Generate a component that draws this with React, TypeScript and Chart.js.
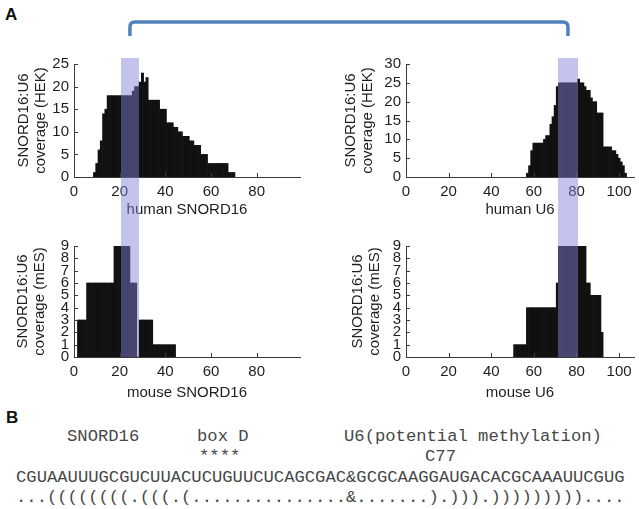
import React, { useEffect, useRef } from "react";
import { Chart, registerables } from "chart.js";

Chart.register(...registerables);

// ---------- data ----------
const xTickStep = 20;
const snord16AxisMax = 99;
const u6AxisMax = 107;

const humanSnord16Start = 9;
const humanSnord16Coverage = [
  1, 3, 6, 8, 14, 15, 18, 18, 18, 18, 18, 18, 18, 18, 18, 18, 18, 19, 20, 20, 21, 23, 21, 22,
  17, 17, 17, 17, 17, 15, 15, 15, 12, 12, 12, 11, 11, 10, 10, 9, 9, 9, 8, 8, 7, 7, 7, 5, 5, 5,
  3, 3, 3, 3, 3, 3, 3, 3, 3, 1, 1, 1,
];

const humanU6Start = 57;
const humanU6Coverage = [
  1, 3, 7, 9, 9, 9, 9, 9, 10, 11, 11, 14, 16, 19, 24, 25, 25, 25, 25, 25, 25, 25, 25, 25, 26,
  25, 25, 24, 23, 23, 21, 20, 20, 17, 17, 17, 8, 8, 8, 8, 7, 7, 6, 5, 4, 3, 1,
];

const mouseSnord16Start = 2;
const mouseSnord16Coverage = [
  3, 3, 3, 3, 6, 6, 6, 6, 6, 6, 6, 6, 6, 6, 6, 6, 9, 9, 9, 9, 9, 9, 9, 6, 6, 6, 0, 3, 3, 3, 3,
  3, 3, 1, 1, 1, 1, 1, 1, 1, 1, 1, 1,
];

const mouseU6Start = 51;
const mouseU6Coverage = [
  1, 1, 1, 1, 1, 1, 4, 4, 4, 4, 4, 4, 4, 4, 4, 4, 4, 4, 4, 4, 6, 9, 9, 9, 9, 9, 9, 9, 9, 9, 9,
  9, 9, 9, 6, 6, 5, 5, 5, 5, 5, 2,
];

const humanYMax = [25, 30];
const humanYStep = 5;
const mouseYMax = 9;
const mouseYStep = 1;

const snord16Band = [21, 28];
const u6Band = [72, 80];

const xTitles = ["human SNORD16", "human U6", "mouse SNORD16", "mouse U6"];
const yTitleHuman = ["SNORD16:U6", "coverage (HEK)"];
const yTitleMouse = ["SNORD16:U6", "coverage (mES)"];

const labelRow = [
  { text: "SNORD16", left: 67 },
  { text: "box D", left: 197 },
  { text: "U6(potential methylation)", left: 344 },
];
const markRow = [
  { text: "****", left: 199 },
  { text: "C77", left: 425 },
];
const sequence = "CGUAAUUUGCGUCUUACUCUGUUCUCAGCGAC&GCGCAAGGAUGACACGCAAAUUCGUG";
const structure = "...((((((((.(((.(...............&.......).))).)))))))))....";

// ---------- styling ----------
const FONT = "'Liberation Sans', Arial, Helvetica, sans-serif";
const MONO = "'Liberation Mono', 'Courier New', monospace";
const AXIS = "#3a3a3a";
const TEXT = "#1e1e1e";
const BAR = "#111111";
const BAND = "rgba(128,128,218,0.47)";
const BRACKET = "#4F81BD";

type Panel = {
  start: number;
  values: number[];
  xMax: number;
  yMax: number;
  yStep: number;
  xTitle: string;
  yTitle: string[];
  left: number;
  top: number;
  width: number;
  height: number;
  yWidth: number;
  xHeight: number;
  padTop: number;
  padRight: number;
  yTitlePad: number;
  xTitlePad: number;
};

const panels: Panel[] = [
  {
    start: humanSnord16Start, values: humanSnord16Coverage, xMax: snord16AxisMax,
    yMax: humanYMax[0], yStep: humanYStep, xTitle: xTitles[0], yTitle: yTitleHuman,
    left: 0, top: 50, width: 310, height: 170, yWidth: 74, xHeight: 43, padTop: 13, padRight: 10,
    yTitlePad: 15, xTitlePad: 1.5,
  },
  {
    start: humanU6Start, values: humanU6Coverage, xMax: u6AxisMax,
    yMax: humanYMax[1], yStep: humanYStep, xTitle: xTitles[1], yTitle: yTitleHuman,
    left: 330, top: 50, width: 309, height: 170, yWidth: 76, xHeight: 43, padTop: 13, padRight: 5,
    yTitlePad: 12.5, xTitlePad: 1.5,
  },
  {
    start: mouseSnord16Start, values: mouseSnord16Coverage, xMax: snord16AxisMax,
    yMax: mouseYMax, yStep: mouseYStep, xTitle: xTitles[2], yTitle: yTitleMouse,
    left: 0, top: 232, width: 310, height: 170, yWidth: 74, xHeight: 45, padTop: 12, padRight: 10,
    yTitlePad: 14, xTitlePad: 0.5,
  },
  {
    start: mouseU6Start, values: mouseU6Coverage, xMax: u6AxisMax,
    yMax: mouseYMax, yStep: mouseYStep, xTitle: xTitles[3], yTitle: yTitleMouse,
    left: 330, top: 232, width: 309, height: 170, yWidth: 76, xHeight: 45, padTop: 12, padRight: 5,
    yTitlePad: 19, xTitlePad: 0.5,
  },
];

const inwardTicks = {
  id: "inwardTicks",
  afterDatasetsDraw(chart: any) {
    const { ctx, chartArea, scales } = chart;
    ctx.save();
    ctx.strokeStyle = AXIS;
    ctx.lineWidth = 1;
    ctx.beginPath();
    for (const t of scales.x.ticks) {
      const px = Math.round(scales.x.getPixelForValue(t.value)) + 0.5;
      ctx.moveTo(px, chartArea.bottom);
      ctx.lineTo(px, chartArea.bottom - 4);
    }
    for (const t of scales.y.ticks) {
      const py = Math.round(scales.y.getPixelForValue(t.value)) + 0.5;
      ctx.moveTo(chartArea.left, py);
      ctx.lineTo(chartArea.left + 4, py);
    }
    ctx.stroke();
    ctx.restore();
  },
};

function buildConfig(p: Panel): any {
  const data = p.values.map((v, i) => ({ x: p.start + i, y: v }));
  const tickFont = { family: FONT, size: 15 };
  const titleFont = { family: FONT, size: 15, lineHeight: 1.13 };
  return {
    type: "bar",
    data: {
      datasets: [
        {
          data,
          backgroundColor: BAR,
          borderWidth: 0,
          barPercentage: 1,
          categoryPercentage: 1,
        },
      ],
    },
    options: {
      animation: false,
      responsive: false,
      maintainAspectRatio: false,
      events: [],
      layout: { padding: { top: p.padTop, right: p.padRight, left: 0, bottom: 0 } },
      plugins: { legend: { display: false }, tooltip: { enabled: false } },
      scales: {
        x: {
          type: "linear",
          min: 0,
          max: p.xMax,
          bounds: "data",
          offset: false,
          grid: { display: false, drawTicks: false, offset: false },
          border: { display: true, color: AXIS, width: 1 },
          ticks: {
            stepSize: xTickStep,
            includeBounds: false,
            autoSkip: false,
            maxRotation: 0,
            padding: 6,
            color: TEXT,
            font: tickFont,
          },
          afterBuildTicks: (s: any) => {
            s.ticks = s.ticks.filter((t: any) => t.value % xTickStep === 0);
          },
          title: {
            display: true,
            text: p.xTitle,
            color: TEXT,
            font: titleFont,
            padding: { top: 0, bottom: p.xTitlePad },
          },
          afterFit: (s: any) => {
            s.height = p.xHeight;
          },
        },
        y: {
          type: "linear",
          min: 0,
          max: p.yMax,
          grid: { display: false, drawTicks: false },
          border: { display: true, color: AXIS, width: 1 },
          ticks: {
            stepSize: p.yStep,
            autoSkip: false,
            padding: 5,
            color: TEXT,
            font: tickFont,
          },
          title: {
            display: true,
            text: p.yTitle,
            color: TEXT,
            font: titleFont,
            padding: { top: p.yTitlePad, bottom: 0 },
          },
          afterFit: (s: any) => {
            s.width = p.yWidth;
          },
        },
      },
    },
    plugins: [inwardTicks],
  };
}

export default function App() {
  const c0 = useRef<HTMLCanvasElement>(null);
  const c1 = useRef<HTMLCanvasElement>(null);
  const c2 = useRef<HTMLCanvasElement>(null);
  const c3 = useRef<HTMLCanvasElement>(null);
  const bandL = useRef<HTMLDivElement>(null);
  const bandR = useRef<HTMLDivElement>(null);
  const bracket = useRef<SVGPathElement>(null);

  useEffect(() => {
    const refs = [c0, c1, c2, c3];
    const charts = panels.map((p, i) => new Chart(refs[i].current as HTMLCanvasElement, buildConfig(p)));

    const place = (el: HTMLDivElement | null, ti: number, bi: number, range: number[]) => {
      const top = charts[ti];
      const bot = charts[bi];
      const sx = top.scales.x;
      const l = panels[ti].left + sx.getPixelForValue(range[0] - 0.5);
      const r = panels[ti].left + sx.getPixelForValue(range[1] + 0.5);
      const t = panels[ti].top + top.chartArea.top - 6;
      const b = panels[bi].top + bot.chartArea.bottom;
      if (el) {
        el.style.left = l + "px";
        el.style.width = r - l + "px";
        el.style.top = t + "px";
        el.style.height = b - t + "px";
      }
      return (l + r) / 2;
    };
    const lx = place(bandL.current, 0, 2, snord16Band);
    const rx = place(bandR.current, 1, 3, u6Band);
    if (bracket.current) {
      const yt = 22;
      const yb = 36;
      const rad = 5;
      bracket.current.setAttribute(
        "d",
        `M ${lx} ${yb} L ${lx} ${yt + rad} Q ${lx} ${yt} ${lx + rad} ${yt} L ${rx - rad} ${yt} Q ${rx} ${yt} ${rx} ${yt + rad} L ${rx} ${yb}`
      );
    }
    return () => charts.forEach((c) => c.destroy());
  }, []);

  const canvases = [c0, c1, c2, c3];
  const monoStyle: React.CSSProperties = {
    position: "absolute",
    fontFamily: MONO,
    fontSize: "17.2px",
    lineHeight: "20px",
    color: "#474747",
    whiteSpace: "pre",
  };

  return (
    <div
      style={{
        position: "absolute",
        left: 0,
        top: 0,
        width: 639,
        height: 509,
        background: "#ffffff",
        overflow: "hidden",
      }}
    >
      {panels.map((p, i) => (
        <canvas
          key={i}
          ref={canvases[i]}
          width={p.width}
          height={p.height}
          style={{ position: "absolute", left: p.left, top: p.top, width: p.width, height: p.height }}
        />
      ))}
      <div ref={bandL} style={{ position: "absolute", background: BAND, zIndex: 2 }} />
      <div ref={bandR} style={{ position: "absolute", background: BAND, zIndex: 2 }} />
      <svg
        width={639}
        height={60}
        style={{ position: "absolute", left: 0, top: 0, zIndex: 3 }}
      >
        <path ref={bracket} d="" fill="none" stroke={BRACKET} strokeWidth={3.5} />
      </svg>
      <div
        style={{
          position: "absolute",
          left: 5,
          top: 6,
          fontFamily: FONT,
          fontWeight: "bold",
          fontSize: "17px",
          lineHeight: "17px",
          color: "#111",
        }}
      >
        A
      </div>
      <div
        style={{
          position: "absolute",
          left: 6,
          top: 409,
          fontFamily: FONT,
          fontWeight: "bold",
          fontSize: "17px",
          lineHeight: "17px",
          color: "#111",
        }}
      >
        B
      </div>
      {labelRow.map((l, i) => (
        <div key={"l" + i} style={{ ...monoStyle, left: l.left, top: 427 }}>
          {l.text}
        </div>
      ))}
      {markRow.map((l, i) => (
        <div key={"m" + i} style={{ ...monoStyle, left: l.left, top: 447 }}>
          {l.text}
        </div>
      ))}
      <div style={{ ...monoStyle, left: 16, top: 468 }}>{sequence}</div>
      <div style={{ ...monoStyle, left: 16, top: 488 }}>{structure}</div>
    </div>
  );
}
